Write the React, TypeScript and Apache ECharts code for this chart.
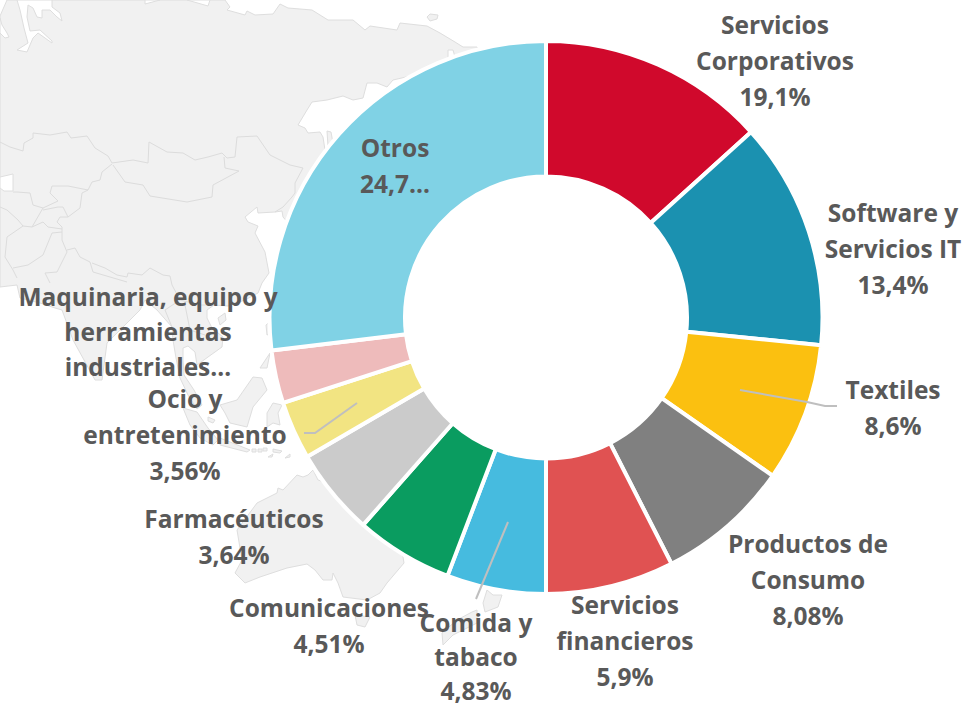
import React, { useEffect, useRef } from "react";
import * as echarts from "echarts";

const categories = [
  "Servicios Corporativos", "Software y Servicios IT", "Textiles", "Productos de Consumo",
  "Servicios financieros", "Comida y tabaco", "Comunicaciones", "Farmacéuticos",
  "Ocio y entretenimiento", "Maquinaria, equipo y herramientas industriales", "Otros",
];
const sliceShares = [13.3, 13.3, 8.1, 7.8, 7.5, 5.8, 5.7, 5.1, 3.4, 3.1, 26.9];
const labelTexts = [
  "Servicios\nCorporativos\n19,1%", "Software y\nServicios IT\n13,4%", "Textiles\n8,6%",
  "Productos de\nConsumo\n8,08%", "Servicios\nfinancieros\n5,9%", "Comida y\ntabaco\n4,83%",
  "Comunicaciones\n4,51%", "Farmacéuticos\n3,64%", "Ocio y\nentretenimiento\n3,56%",
  "Maquinaria, equipo y\nherramientas\nindustriales…", "Otros\n24,7…",
];
const sliceColors = ["#d0092c", "#1b91b0", "#fbc010", "#808080", "#e05252", "#46bbdf", "#0a9c60", "#cbcbcb", "#f2e482", "#eebbbb", "#80d2e5"];
const labelCentres = [
  [775, 60], [893, 248], [893, 407], [808, 579], [625, 640], [476, 656],
  [329, 625], [234, 536], [185, 434], [148, 331], [395, 165],
];
const labelLineHeights = [36, 36, 36, 36, 36, 34, 36, 36, 36, 35, 36];
const leaderLines = [
  [[740, 390], [807, 402], [825, 406], [837, 406]],
  [[357, 403], [315, 433], [304, 433]],
  [[508, 522], [476, 599]],
];

const landShapes = [
  [[0, 16], [7, 0], [225, 0], [230, 7], [227, 10], [245, 15], [247, 11], [255, 15], [273, 14], [280, 4], [288, 8], [312, 10], [328, 20], [353, 20], [365, 30], [370, 26], [397, 30], [400, 23], [427, 26], [440, 33], [455, 42], [463, 47], [477, 47], [480, 60], [393, 80], [387, 87], [377, 83], [367, 83], [363, 98], [353, 100], [343, 96], [327, 100], [312, 102], [307, 110], [298, 125], [305, 128], [308, 133], [320, 132], [323, 137], [325, 150], [340, 200], [290, 225], [283, 217], [282, 211], [275, 212], [258, 213], [257, 207], [245, 217], [248, 222], [258, 226], [255, 233], [265, 252], [269, 273], [262, 283], [258, 293], [245, 300], [228, 306], [214, 305], [207, 310], [207, 318], [212, 328], [223, 337], [222, 347], [208, 357], [197, 365], [195, 352], [188, 346], [183, 348], [183, 360], [184, 375], [194, 390], [202, 405], [197, 409], [188, 395], [180, 378], [176, 358], [173, 340], [172, 327], [157, 310], [145, 300], [140, 310], [125, 325], [107, 343], [102, 380], [95, 380], [73, 340], [62, 310], [55, 308], [40, 303], [20, 298], [17, 285], [0, 287]],
  [[427, 17], [430, 14], [438, 15], [437, 19], [430, 21]],
  [[327, 131], [331, 132], [333, 143], [328, 146]],
  [[220, 405], [237, 400], [253, 377], [262, 378], [267, 390], [253, 407], [247, 427], [230, 423], [225, 413]],
  [[267, 413], [273, 403], [282, 405], [278, 413], [280, 425], [273, 423], [267, 427]],
  [[260, 368], [270, 353], [267, 368]],
  [[266, 325], [272, 320], [272, 333], [267, 335]],
  [[218, 318], [225, 313], [226, 320], [220, 325]],
  [[183, 408], [197, 412], [208, 428], [218, 440], [213, 445], [200, 438], [190, 425]],
  [[208, 417], [215, 420], [213, 423], [208, 421]],
  [[220, 438], [250, 450], [247, 452], [220, 445]],
  [[252, 449], [256, 449], [256, 452], [252, 452]],
  [[258, 449], [262, 449], [262, 452], [258, 452]],
  [[263, 448], [267, 448], [267, 451], [263, 451]],
  [[273, 449], [282, 451], [280, 453], [273, 452]],
  [[268, 457], [273, 454], [272, 457]],
  [[285, 458], [290, 454], [290, 457]],
  [[313, 470], [318, 480], [380, 500], [403, 557], [404, 563], [387, 583], [380, 593], [367, 600], [343, 597], [338, 583], [333, 573], [332, 580], [323, 580], [315, 570], [307, 564], [287, 568], [260, 577], [245, 583], [235, 573], [242, 560], [237, 530], [257, 503], [277, 493], [278, 488], [283, 490], [297, 475], [303, 477], [308, 475]],
  [[355, 615], [370, 617], [365, 627], [357, 625]],
  [[487, 590], [493, 595], [502, 595], [498, 607], [485, 612], [483, 603]],
  [[472, 612], [477, 610], [477, 623], [453, 635], [443, 645], [442, 633], [457, 620]],
];
const seaShapes = [
  [[17, 0], [20, 10], [24, 28], [28, 43], [17, 50], [27, 52], [33, 38], [38, 33], [52, 43], [52, 41], [40, 30], [30, 31], [27, 17], [28, 5], [33, 8], [37, 17], [42, 18], [42, 10], [50, 10], [57, 17], [62, 21], [60, 13], [52, 7], [52, 0]],
  [[0, 18], [2, 25], [7, 33], [9, 37], [5, 38], [0, 33]],
  [[145, 4], [160, 0], [145, 0]],
  [[187, 0], [208, 6], [210, 0]],
  [[448, 50], [453, 50], [455, 57], [448, 58]],
  [[0, 177], [13, 174], [13, 191], [4, 191], [0, 188]],
];
const borderLines = [
  [[0, 142], [10, 147], [23, 151], [24, 143], [33, 138], [33, 133], [50, 135], [67, 132], [71, 138], [87, 136], [95, 148], [108, 156], [112, 163]],
  [[112, 163], [133, 160], [148, 163], [149, 142], [167, 152], [183, 153], [195, 160], [208, 157], [222, 153], [227, 158], [235, 157], [237, 137], [257, 136], [270, 155], [290, 165], [303, 168], [295, 183], [295, 193], [292, 197]],
  [[224, 157], [225, 168], [239, 171], [213, 185], [212, 197], [187, 202], [150, 196], [143, 185], [125, 182], [113, 165]],
  [[275, 212], [283, 207], [292, 197]],
  [[112, 164], [102, 172], [100, 180], [92, 182], [88, 190], [68, 186], [52, 186], [50, 193], [58, 201], [43, 208], [33, 205], [30, 193], [17, 192], [13, 192]],
  [[43, 208], [32, 227]],
  [[43, 210], [58, 207], [63, 207], [68, 217], [80, 208], [82, 193], [88, 190]],
  [[68, 217], [60, 217], [57, 222], [62, 227], [62, 240], [67, 252]],
  [[32, 227], [43, 222], [48, 227], [62, 229]],
  [[0, 207], [7, 210], [18, 220], [23, 226], [32, 227]],
  [[23, 226], [7, 237], [5, 257], [13, 270], [17, 278]],
  [[62, 232], [52, 233], [43, 255], [28, 265], [13, 268]],
  [[67, 252], [57, 272], [45, 273], [50, 283]],
  [[67, 250], [75, 248], [80, 257], [90, 262], [93, 272], [127, 282]],
  [[92, 263], [105, 268], [117, 275], [127, 277], [128, 273], [142, 275], [150, 268], [163, 275], [170, 276], [172, 285]],
  [[172, 285], [180, 300], [165, 310], [172, 327]],
  [[180, 300], [200, 305], [214, 305]],
  [[185, 305], [190, 330], [205, 335]],
];

const LABEL_FONT = "'Open Sans', sans-serif";

export default function App() {
  const ref = useRef<HTMLDivElement>(null);
  useEffect(() => {
    const chart = echarts.init(ref.current!, null, { renderer: "svg" });
    const land = "#f1f1f1";
    chart.setOption({
      animation: false,
      backgroundColor: "#ffffff",
      graphic: [
        ...landShapes.map((points) => ({
          type: "polygon", z: 0, silent: true,
          shape: { points },
          style: { fill: land, stroke: "#dedede", lineWidth: 1 },
        })),
        ...seaShapes.map((points) => ({
          type: "polygon", z: 0, silent: true,
          shape: { points },
          style: { fill: "#ffffff", stroke: "#dedede", lineWidth: 1 },
        })),
        ...borderLines.map((points) => ({
          type: "polyline", z: 0, silent: true,
          shape: { points },
          style: { fill: "none", stroke: "#dcdcdc", lineWidth: 1 },
        })),
        ...leaderLines.map((points) => ({
          type: "polyline", z: 50, silent: true,
          shape: { points },
          style: { fill: "none", stroke: "#bfbfbf", lineWidth: 2 },
        })),
      ],
      series: [
        {
          type: "pie",
          center: [546, 317.5],
          radius: [141, 276.5],
          startAngle: 90,
          clockwise: true,
          avoidLabelOverlap: false,
          silent: true,
          itemStyle: { borderColor: "#ffffff", borderWidth: 4 },
          label: {
            show: true,
            position: "outside",
            formatter: (p: any) => labelTexts[p.dataIndex],
            fontFamily: LABEL_FONT,
            fontWeight: 700,
            fontSize: 24.5,
            lineHeight: 36,
            color: "#595959",
            align: "center",
            overflow: "none",
          },
          labelLine: { show: false },
          labelLayout: (p: any) => ({
            x: labelCentres[p.dataIndex][0],
            y: labelCentres[p.dataIndex][1],
            align: "center",
            verticalAlign: "middle",
          }),
          data: categories.map((name, i) => ({
            name,
            value: sliceShares[i],
            itemStyle: { color: sliceColors[i] },
            label: { lineHeight: labelLineHeights[i] },
          })),
        },
      ],
    });
    return () => chart.dispose();
  }, []);
  return <div ref={ref} style={{ position: "absolute", left: 0, top: 0, width: 968, height: 707 }} />;
}
